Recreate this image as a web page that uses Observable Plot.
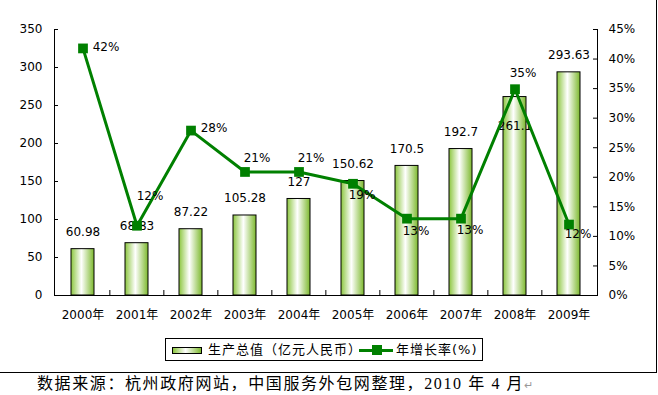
<!DOCTYPE html>
<html>
<head>
<meta charset="utf-8">
<script src="https://cdn.jsdelivr.net/npm/d3@7"></script>
<script src="https://cdn.jsdelivr.net/npm/@observablehq/plot@0.6"></script>
<style>
  body { margin: 0; background: #fff; }
  #wrap { position: relative; width: 656px; height: 372px; border-right: 1px solid #000; border-bottom: 1px solid #000; }
  #wrap svg { display: block; }
  #legend { position: absolute; left: 165px; top: 338px; width: 318px; height: 23px; border: 1px solid #000; box-sizing: border-box; background: #fff;
            font-family: "DejaVu Sans", "Noto Sans CJK SC", sans-serif; font-size: 13px; color: #000; }
  #legend .sw1 { position: absolute; left: 6px; top: 8px; width: 30px; height: 7px; box-sizing: border-box; border: 1px solid #000;
                 background: linear-gradient(to right, #8cc63f 0%, #ffffff 45%, #7db92e 100%); }
  #legend .t { position: absolute; top: 0; line-height: 21px; letter-spacing: 1px; white-space: nowrap; }
  #legend .ln { position: absolute; left: 193px; top: 9.5px; width: 34px; height: 3px; background: #008000; }
  #legend .mk { position: absolute; left: 206px; top: 6px; width: 10px; height: 10px; background: #008000; }
  #caption { padding-left: 37px; height: 22px; line-height: 22px; font-size: 16px; letter-spacing: 1.6px; white-space: nowrap;
             font-family: "Liberation Serif", "Noto Sans CJK SC", serif; color: #000; }
  #caption .pm { color: #999; font-size: 11px; letter-spacing: 0; }
</style>
</head>
<body>
<div id="wrap">
  <div id="legend">
    <div class="sw1"></div>
    <div class="t" id="lt1" style="left:42px"></div>
    <div class="ln"></div><div class="mk"></div>
    <div class="t" id="lt2" style="left:230px"></div>
  </div>
</div>
<div id="caption"></div>
<script>
// ---- data ----
const years = ["2000年", "2001年", "2002年", "2003年", "2004年", "2005年", "2006年", "2007年", "2008年", "2009年"];
const output = [60.98, 68.83, 87.22, 105.28, 127, 150.62, 170.5, 192.7, 261.1, 293.63];
const growth = [41.8, 11.8, 27.9, 20.9, 20.9, 18.9, 13.0, 13.0, 34.9, 12.0];
const leftTicks = [0, 50, 100, 150, 200, 250, 300, 350];
const rightTicks = [0, 5, 10, 15, 20, 25, 30, 35, 40, 45];
const seriesNames = ["生产总值（亿元人民币）", "年增长率(%)"];
const captionText = "数据来源：杭州政府网站，中国服务外包网整理，2010 年 4 月";

// ---- label placement (pixels) ----
const outputLabelDy = [-17, -17, -17, -17, -17, -17, -17, -17, 29, -17];
const growthLabelOffset = [[23, -1], [13, -30], [23, -2], [12, -14], [12, -14], [9, 11], [9, 13], [9, 12], [8, -16], [9, 10]];

const W = 656, H = 372, mT = 29, mB = 77, mL = 54, mR = 59;
const yMax = 350, pMax = 45, k = yMax / pMax;
const step = (W - mL - mR) / years.length;
const unitsPerPx = yMax / (H - mT - mB);
const data = years.map((year, i) => ({year, output: output[i], growth: growth[i], g: growth[i] * k}));

const chart = Plot.plot({
  width: W, height: H,
  marginTop: mT, marginBottom: mB, marginLeft: mL, marginRight: mR,
  style: {fontFamily: '"DejaVu Sans", "Noto Sans CJK SC", sans-serif', fontSize: "12px", color: "#000", background: "#fff"},
  x: {domain: years, paddingInner: 0.58, paddingOuter: 0.29, axis: null},
  y: {domain: [0, yMax], axis: null},
  marks: [
    Plot.barY(data, {x: "year", y: "output", fill: "url(#barGrad)", stroke: "#000", strokeWidth: 1}),
    Plot.frame({anchor: "left"}),
    Plot.frame({anchor: "right"}),
    Plot.frame({anchor: "bottom"}),
    Plot.axisY(leftTicks, {anchor: "left", tickSize: -4, tickPadding: 16, label: null}),
    Plot.axisY(rightTicks.map(v => v * k), {anchor: "right", tickSize: -5, tickPadding: 16, label: null,
      tickFormat: d => Math.round(d / k) + "%"}),
    Plot.axisX({tickSize: 0, tickPadding: 15, label: null}),
    Plot.ruleX(years.slice(1), {x: d => d, dx: -step / 2, y1: 0, y2: 5 * unitsPerPx, stroke: "#000"}),
    ...data.map((d, i) => Plot.text([d], {x: "year", y: "output", text: d => String(d.output), dy: outputLabelDy[i], fill: "#000"})),
    Plot.line(data, {x: "year", y: "g", stroke: "#008000", strokeWidth: 3}),
    Plot.dot(data, {x: "year", y: "g", symbol: "square", r: 5.5, fill: "#008000", stroke: "none"}),
    ...data.map((d, i) => Plot.text([d], {x: "year", y: "g", text: d => Math.round(d.growth) + "%",
      dx: growthLabelOffset[i][0], dy: growthLabelOffset[i][1], fill: "#000"}))
  ]
});

const defs = d3.select(chart).insert("defs", ":first-child");
const grad = defs.append("linearGradient").attr("id", "barGrad").attr("x1", 0).attr("x2", 1).attr("y1", 0).attr("y2", 0);
grad.append("stop").attr("offset", "0%").attr("stop-color", "#8cc63f");
grad.append("stop").attr("offset", "45%").attr("stop-color", "#ffffff");
grad.append("stop").attr("offset", "100%").attr("stop-color", "#7db92e");

document.getElementById("wrap").insertBefore(chart, document.getElementById("legend"));
document.getElementById("lt1").textContent = seriesNames[0];
document.getElementById("lt2").textContent = seriesNames[1];
document.getElementById("caption").innerHTML = captionText + '<span class="pm">↵</span>';
</script>
</body>
</html>
